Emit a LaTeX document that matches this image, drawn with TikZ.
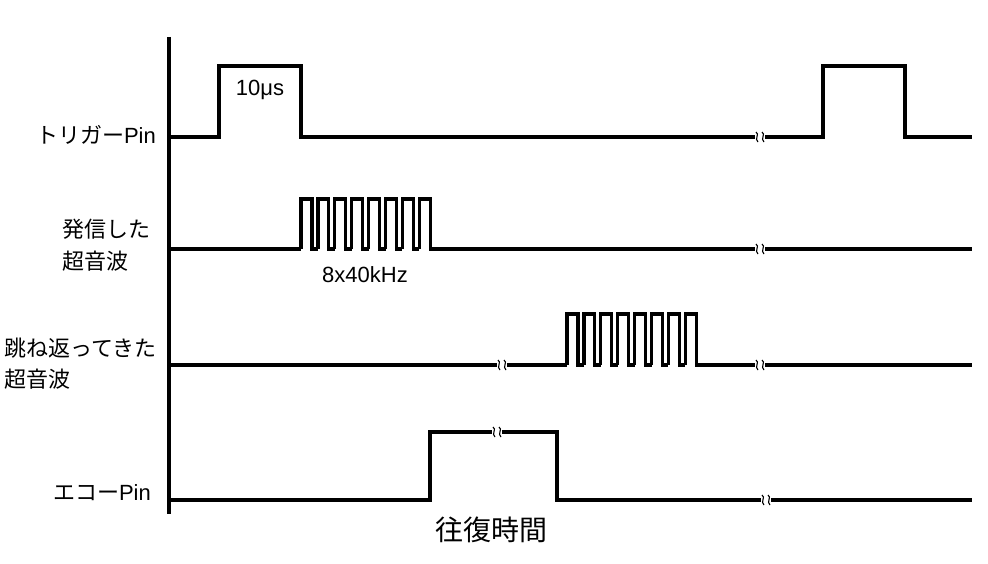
\documentclass[tikz,border=0pt]{standalone}
\usepackage{fontspec}
\setmainfont{Liberation Sans}
\newfontfamily\jp{Noto Sans CJK JP}
\usetikzlibrary{positioning}

\tikzset{
  sig/.style={line width=3.2pt, line join=miter},
  lbl/.style={font=\jp\fontsize{22}{26}\selectfont, inner sep=0pt},
  num/.style={font=\fontsize{22}{26}\selectfont, inner sep=0pt},
}
% burst of eight pulses starting at x, base y, top t
\newcommand{\burst}[3]{%
  \foreach \k in {0,...,7} {
    \draw[sig] ({#1+\k*16.9},#2) -- ({#1+\k*16.9},#3) -- ({#1+\k*16.9+10.9},#3) -- ({#1+\k*16.9+10.9},#2) -- ({#1+\k*16.9+16.9},#2);
  }}
% break mark
\newcommand{\brk}[2]{%
  \fill[white] ({#1-5},{#2-5}) rectangle ({#1+5},{#2+5});
  \draw[line width=1.1pt] ({#1-4},{#2-5}) .. controls ({#1},{#2-3}) and ({#1-6},{#2+2}) .. ({#1-2},{#2+5});
  \draw[line width=1.1pt] ({#1+2},{#2-5}) .. controls ({#1+6},{#2-3}) and ({#1},{#2+2}) .. ({#1+4},{#2+5});}

\begin{document}
\begin{tikzpicture}[x=1pt,y=-1pt]
\useasboundingbox (0,0) rectangle (988,564);

% axis
\draw[line width=3.2pt] (169,37) -- (169,514);

% trigger
\draw[sig] (169,137) -- (219,137) -- (219,66) -- (301,66) -- (301,137) -- (823,137) -- (823,66) -- (905,66) -- (905,137) -- (972,137);
\brk{760}{137}
\node[num] (pw) at (260,90) {10μs};
\node[lbl, anchor=east] (trig) at (156,135) {トリガー\fontspec{Liberation Sans}Pin};

% sent wave
\draw[sig] (169,249) -- (301,249);
\burst{301}{249}{199}
\draw[sig] (430,249) -- (972,249);
\brk{760}{249}
\node[lbl, anchor=west] (sent1) at (62,229) {発信した};
\node[lbl, anchor=west] (sent2) at (62,261) {超音波};
\node[num] (freq) at (365,275) {8x40kHz};

% returned wave
\draw[sig] (169,365) -- (567,365);
\burst{567}{365}{314}
\draw[sig] (697,365) -- (972,365);
\brk{502}{365}
\brk{760}{365}
\node[lbl, anchor=west] (ret1) at (4,348) {跳ね返ってきた};
\node[lbl, anchor=west] (ret2) at (4,379) {超音波};

% echo
\draw[sig] (169,500) -- (430,500) -- (430,432) -- (557,432) -- (557,500) -- (972,500);
\brk{497}{432}
\brk{766}{500}
\node[lbl, anchor=east] (echo) at (151,493) {エコー\fontspec{Liberation Sans}Pin};
\node[lbl, font=\jp\fontsize{28}{32}\selectfont] (rt) at (491,530) {往復時間};

\end{tikzpicture}
\end{document}
